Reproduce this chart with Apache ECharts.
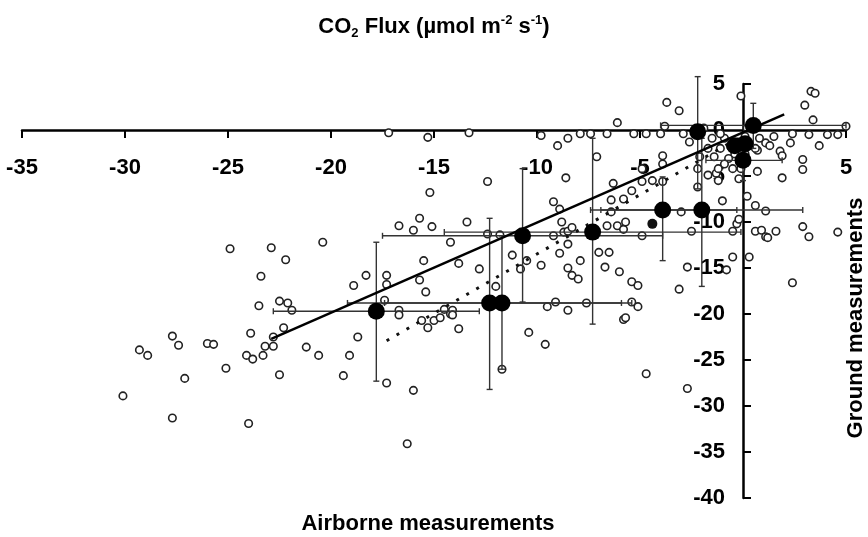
<!DOCTYPE html>
<html><head><meta charset="utf-8">
<script src="https://cdn.jsdelivr.net/npm/echarts@6/dist/echarts.min.js"></script>
<style>html,body{margin:0;padding:0;background:#fff}#c{width:868px;height:537px}</style>
</head><body><div id="c"></div>
<script>
// ---- data ----
const xTickValues = [-35, -30, -25, -20, -15, -10, -5, 5];
const yTickValues = [5, 0, -5, -10, -15, -20, -25, -30, -35, -40];

// individual measurements (open circles): [airborne, ground]
const openPoints = [
  [-30.1,-28.9],[-29.3,-23.9],[-28.9,-24.5],[-27.7,-22.4],[-27.4,-23.4],[-27.7,-31.3],[-27.1,-27.0],[-26.0,-23.2],
  [-25.7,-23.3],[-25.1,-25.9],[-24.9,-12.9],[-24.1,-24.5],[-23.8,-24.9],[-24.0,-31.9],[-23.9,-22.1],[-23.5,-19.1],
  [-23.4,-15.9],[-23.3,-24.5],[-23.2,-23.5],[-22.9,-12.8],[-22.8,-22.5],[-22.8,-23.5],[-22.5,-18.6],[-22.5,-26.6],
  [-22.3,-21.5],[-22.2,-14.1],[-22.1,-18.8],[-21.9,-19.6],[-21.2,-23.6],[-20.6,-24.5],[-20.4,-12.2],[-19.4,-26.7],
  [-19.1,-24.5],[-18.9,-16.9],[-18.7,-22.5],[-18.3,-15.8],[-17.4,-18.5],[-17.3,-15.8],[-17.3,-16.8],[-17.3,-27.5],
  [-17.2,-0.3],[-16.7,-10.4],[-16.7,-19.6],[-16.7,-20.1],[-16.3,-34.1],[-16.0,-28.3],[-16.0,-10.9],[-15.7,-9.6],
  [-15.7,-16.3],[-15.6,-20.7],[-15.5,-14.2],[-15.4,-17.6],[-15.3,-0.8],[-15.3,-21.5],[-15.2,-6.8],[-15.1,-10.5],
  [-15.0,-20.7],[-14.7,-20.4],[-14.5,-19.5],[-14.2,-12.2],[-14.2,-20.0],[-14.1,-19.6],[-14.1,-20.1],[-13.8,-14.5],
  [-13.8,-21.6],[-13.4,-10.0],[-13.3,-0.3],[-12.8,-15.1],[-12.4,-5.6],[-12.4,-11.3],[-12.0,-17.0],[-11.8,-11.4],
  [-11.7,-26.0],[-11.2,-13.6],[-10.8,-15.1],[-10.5,-14.2],[-10.4,-22.0],[-9.8,-14.7],[-9.8,-0.6],[-9.6,-23.3],
  [-9.5,-19.2],[-9.2,-7.8],[-9.2,-11.5],[-9.1,-18.7],[-9.0,-1.7],[-8.9,-8.6],[-8.9,-13.4],[-8.8,-10.0],
  [-8.7,-11.1],[-8.6,-5.2],[-8.5,-0.9],[-8.5,-11.0],[-8.5,-12.4],[-8.5,-15.0],[-8.5,-19.6],[-8.3,-10.6],
  [-8.3,-15.8],[-8.0,-16.2],[-7.9,-0.4],[-7.9,-14.2],[-7.6,-18.8],[-7.4,-0.4],[-7.1,-2.9],[-7.0,-13.3],
  [-6.7,-14.9],[-6.6,-0.4],[-6.6,-10.4],[-6.5,-13.3],[-6.4,-7.6],[-6.4,-8.9],[-6.3,-5.8],[-6.1,0.8],
  [-6.1,-10.4],[-6.0,-15.4],[-5.8,-7.5],[-5.8,-10.8],[-5.8,-20.6],[-5.7,-10.0],[-5.7,-20.4],[-5.4,-16.5],
  [-5.3,-0.4],[-5.1,-16.9],[-5.4,-6.6],[-5.4,-18.7],[-5.1,-19.2],[-4.9,-4.2],[-4.9,-5.6],[-4.9,-11.5],
  [-4.7,-26.5],[-4.7,-0.4],[-4.4,-5.5],[-4.0,-0.4],[-3.9,-2.8],[-3.9,-3.7],[-3.9,-5.6],[-3.8,0.4],
  [-3.7,3.0],[-3.1,2.1],[-3.1,-17.3],[-3.0,-8.9],[-2.9,-0.4],[-2.7,-14.9],[-2.7,-28.1],[-2.6,-1.3],
  [-2.5,-11.0],[-2.2,-4.2],[-2.2,-6.2],[-1.7,-4.9],[-1.3,-4.7],[-1.2,-5.5],[-1.0,-7.7],[-0.8,-15.2],
  [-0.5,-13.8],[-0.5,-11.0],[-0.3,-10.2],[-0.2,-9.7],[-0.2,-5.3],[-0.1,3.7],[0.2,-7.2],[0.3,-13.8],
  [0.6,-8.2],[0.6,-11.0],[0.7,-4.5],[0.7,-2.2],[0.9,-10.9],[1.1,-8.8],[1.1,-11.6],[1.1,-1.4],
  [1.2,-11.7],[1.3,-1.7],[1.5,-0.7],[1.6,-11.0],[1.8,-2.3],[1.9,-2.8],[1.9,-5.2],[2.3,-1.4],
  [2.4,-0.4],[2.4,-16.6],[2.9,-3.2],[2.9,-4.3],[2.9,-10.5],[3.0,2.7],[3.2,-0.5],[3.2,-11.6],
  [3.3,4.2],[3.5,4.0],[3.4,1.1],[3.7,-1.7],[4.1,-0.5],[4.6,-0.5],[4.6,-11.1],[5.0,0.4],
  [-0.9,-0.9],[-0.6,-1.8],[-0.2,-1.3],[0.1,-0.7],[0.3,-1.5],[-0.4,-2.6],[-0.7,-3.1],[-1.1,-2.0],
  [-1.4,-2.9],[0.1,-2.6],[0.6,-2.0],[0.8,-0.9],[-0.9,-3.7],[-0.5,-4.2],[-1.2,-4.2],[-0.1,-4.2],
  [-1.7,-2.0],[-2.1,-2.9],[-1.5,-0.9],[-1.1,-0.4],[0.2,0.2],[-1.9,0.2]
];

// averaged values (filled circles) with error bar limits
const meanX    = [-17.8, -12.3, -11.7, -10.7, -7.3, -3.9, -2.0, -2.2, 0.5, -0.4, 0.0, 0.1];
const meanY    = [-19.7, -18.8, -18.8, -11.5, -11.1, -8.7, -8.7, -0.2, 0.5, -1.7, -3.3, -1.5];
const errXLow  = [-22.8, -19.2, -17.4, -17.5, -14.5, -7.4, -6.9, null, -4.0, null, -1.8, null];
const errXHigh = [-12.8, -5.4, -5.9, -3.9, -0.1, -0.3, 2.9, null, 5.0, null, 1.9, null];
const errYLow  = [-27.3, -28.2, -26.0, -18.7, -21.1, -14.2, -17.0, -6.4, -2.0, null, -5.5, null];
const errYHigh = [-12.2, -9.6, -11.5, -4.2, -0.9, -5.1, -0.9, 5.8, 2.9, null, -1.0, null];
const smallFilled = [[-4.4, -10.2]];

// regression lines (end points)
const solidFit  = [[-22.9, -22.7], [2.0, 1.7]];
const dottedFit = [[-17.3, -22.9], [-0.4, -1.1]];

// ---- chart ----
const FONT = '"Liberation Sans", Arial, sans-serif';
const W = 868, H = 537;
const G = {left: 22, right: 22, top: 84, bottom: 39};
const X_MIN = -35, X_MAX = 5, Y_MIN = -40, Y_MAX = 5;
// move the axes so they cross at zero (labels travel with them)
const gridW = W - G.left - G.right, gridH = H - G.top - G.bottom;
const xAxisOffset = -gridH * (0 - Y_MIN) / (Y_MAX - Y_MIN);
const yAxisOffset = -gridW * (0 - X_MIN) / (X_MAX - X_MIN);

const chart = echarts.init(document.getElementById('c'), null, {renderer: 'canvas'});
const errData = meanX.map((x, i) => [x, meanY[i],
  errXLow[i] == null ? '-' : errXLow[i], errXHigh[i] == null ? '-' : errXHigh[i],
  errYLow[i] == null ? '-' : errYLow[i], errYHigh[i] == null ? '-' : errYHigh[i]]);

chart.setOption({
  animation: false,
  backgroundColor: '#fff',
  title: {
    text: '{a|CO}{s|2}{a| Flux (µmol m}{p|-2}{a| s}{p|-1}{a|)}',
    left: 'center', top: 9,
    textStyle: {
      rich: {
        a: {fontSize: 22, fontWeight: 'bold', fontFamily: FONT, color: '#000', lineHeight: 26},
        s: {fontSize: 13, fontWeight: 'bold', fontFamily: FONT, color: '#000', lineHeight: 16, verticalAlign: 'bottom'},
        p: {fontSize: 13, fontWeight: 'bold', fontFamily: FONT, color: '#000', lineHeight: 16, verticalAlign: 'top'}
      }
    }
  },
  grid: {left: G.left, right: G.right, top: G.top, bottom: G.bottom, outerBoundsMode: 'none'},
  xAxis: {
    type: 'value', min: X_MIN, max: X_MAX, interval: 5,
    position: 'bottom', offset: xAxisOffset,
    splitLine: {show: false},
    axisLine: {onZero: false, lineStyle: {color: '#000', width: 2.5}},
    axisTick: {length: 8, lineStyle: {color: '#000', width: 2}},
    axisLabel: {
      margin: 27, color: '#000', fontSize: 22, fontWeight: 'bold', fontFamily: FONT,
      formatter: v => xTickValues.indexOf(v) >= 0 ? String(v) : ''
    }
  },
  yAxis: {
    type: 'value', min: Y_MIN, max: Y_MAX, interval: 5,
    position: 'left', offset: yAxisOffset,
    splitLine: {show: false},
    axisLine: {onZero: false, lineStyle: {color: '#000', width: 2.5}},
    axisTick: {inside: true, length: 8, lineStyle: {color: '#000', width: 2}},
    axisLabel: {
      margin: 18, color: '#000', fontSize: 22, fontWeight: 'bold', fontFamily: FONT,
      formatter: v => yTickValues.indexOf(v) >= 0 ? String(v) : ''
    }
  },
  graphic: [
    {type: 'text', x: 428, y: 524, style: {text: 'Airborne measurements', fill: '#000',
      font: 'bold 22px ' + FONT, textAlign: 'center', textVerticalAlign: 'middle'}},
    {type: 'text', x: 856, y: 318, rotation: Math.PI / 2, style: {text: 'Ground measurements', fill: '#000',
      font: 'bold 22px ' + FONT, textAlign: 'center', textVerticalAlign: 'middle'}}
  ],
  series: [
    {
      type: 'scatter', data: openPoints, symbol: 'circle', symbolSize: 7.5, z: 2,
      itemStyle: {color: '#fff', borderColor: '#222', borderWidth: 1.6, opacity: 1},
      emphasis: {disabled: true}
    },
    {
      type: 'custom', data: errData, z: 3, silent: true,
      renderItem: function (params, api) {
        const y = api.value(1), x = api.value(0);
        const xl = api.value(2), xh = api.value(3), yl = api.value(4), yh = api.value(5);
        const style = {stroke: '#333', lineWidth: 1.4, fill: null};
        const cap = 3;
        const ch = [];
        if (!isNaN(xl) && !isNaN(xh)) {
          const a = api.coord([xl, y]), b = api.coord([xh, y]);
          ch.push({type: 'line', shape: {x1: a[0], y1: a[1], x2: b[0], y2: b[1]}, style});
          ch.push({type: 'line', shape: {x1: a[0], y1: a[1] - cap, x2: a[0], y2: a[1] + cap}, style});
          ch.push({type: 'line', shape: {x1: b[0], y1: b[1] - cap, x2: b[0], y2: b[1] + cap}, style});
        }
        if (!isNaN(yl) && !isNaN(yh)) {
          const a = api.coord([x, yl]), b = api.coord([x, yh]);
          ch.push({type: 'line', shape: {x1: a[0], y1: a[1], x2: b[0], y2: b[1]}, style});
          ch.push({type: 'line', shape: {x1: a[0] - cap, y1: a[1], x2: a[0] + cap, y2: a[1]}, style});
          ch.push({type: 'line', shape: {x1: b[0] - cap, y1: b[1], x2: b[0] + cap, y2: b[1]}, style});
        }
        return {type: 'group', children: ch};
      }
    },
    {
      type: 'line', data: solidFit, showSymbol: false, symbol: 'none', z: 4, silent: true,
      lineStyle: {color: '#000', width: 2.5}
    },
    {
      type: 'line', data: dottedFit, showSymbol: false, symbol: 'none', z: 4, silent: true,
      lineStyle: {color: '#111', width: 3, type: [3, 8.5]}
    },
    {
      type: 'scatter', data: meanX.map((x, i) => [x, meanY[i]]), symbol: 'circle', symbolSize: 17, z: 5,
      itemStyle: {color: '#000', opacity: 1}, emphasis: {disabled: true}
    },
    {
      type: 'scatter', data: smallFilled, symbol: 'circle', symbolSize: 10, z: 5,
      itemStyle: {color: '#111', opacity: 1}, emphasis: {disabled: true}
    }
  ]
});
</script>
</body></html>
